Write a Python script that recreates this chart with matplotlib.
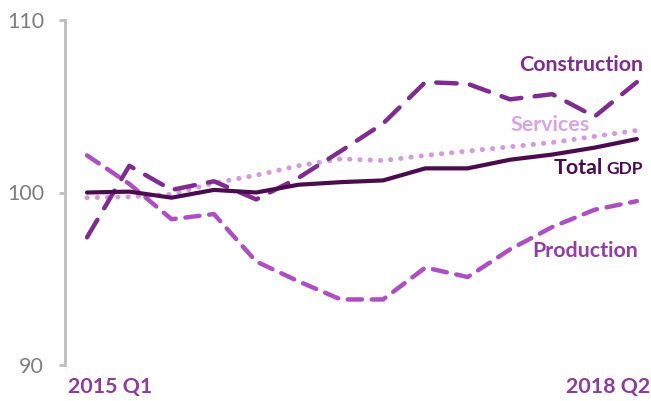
import matplotlib
matplotlib.use('Agg')
import matplotlib.pyplot as plt

quarters = ['2015 Q1', '2015 Q2', '2015 Q3', '2015 Q4',
            '2016 Q1', '2016 Q2', '2016 Q3', '2016 Q4',
            '2017 Q1', '2017 Q2', '2017 Q3', '2017 Q4',
            '2018 Q1', '2018 Q2']
gdp = [100.0, 100.05, 99.7, 100.15, 100.0, 100.45, 100.6, 100.7,
       101.4, 101.4, 101.9, 102.2, 102.6, 103.1]
services = [99.7, 99.75, 99.9, 100.55, 101.0, 101.55, 101.95, 101.85,
            102.15, 102.4, 102.65, 102.9, 103.25, 103.6]
production = [102.15, 100.5, 98.45, 98.75, 96.0, 94.85, 93.8, 93.8,
              95.65, 95.1, 96.7, 98.0, 99.0, 99.5]
construction = [97.4, 101.55, 100.15, 100.65, 99.6, 100.85, 102.4, 104.0,
                106.4, 106.3, 105.4, 105.7, 104.4, 106.4]

c_gdp = '#4b0c4f'
c_serv = '#d699e0'
c_prod = '#ad4fc2'
c_cons = '#7e2d8e'

plt.rcParams['font.family'] = ['Lato', 'DejaVu Sans']

W, H = 651, 401
fig = plt.figure(figsize=(W/100, H/100), dpi=100)
ax = fig.add_axes([65/W, 36/H, (650-65)/W, (365-20)/H])

x = list(range(len(quarters)))
ax.plot(x, services, color=c_serv, lw=3.6, dashes=(0.05, 2.0),
        dash_capstyle='round', zorder=2)
ax.plot(x, production, color=c_prod, lw=3.2, dashes=(3.2, 2.2),
        dash_capstyle='round', solid_joinstyle='round', zorder=3)
ax.plot(x, construction, color=c_cons, lw=3.2, dashes=(4.6, 3.0),
        dash_capstyle='round', zorder=4)
ax.plot(x, gdp, color=c_gdp, lw=3.0, solid_capstyle='round', zorder=5)

ax.set_xlim(-0.52, 13.31)
ax.set_ylim(90, 110)
ax.set_yticks([90, 100, 110])
ax.set_xticks([])
for s in ['top', 'right', 'bottom']:
    ax.spines[s].set_visible(False)
ax.spines['left'].set_color('#bfbfbf')
ax.spines['left'].set_linewidth(2)
ax.tick_params(axis='y', colors='#bfbfbf', width=2, length=4,
               labelcolor='#7f7f7f', labelsize=15.5, pad=11)


def px_text(px, py, s, **kw):
    # place text by pixel position measured from the top-left
    fig.text(px/W, 1 - py/H, s, va='center', fontweight='bold', **kw)


# series labels
px_text(643, 65, 'Construction', ha='right', color=c_cons, fontsize=15.4)
px_text(590, 125, 'Services', ha='right', color='#d8a5e2', fontsize=15.4)
px_text(603, 168, 'Total', ha='right', color=c_gdp, fontsize=15.4)
px_text(606, 169, 'GDP', ha='left', color=c_gdp, fontsize=12.5)
px_text(638, 251, 'Production', ha='right', color='#923ea4', fontsize=15.4)

px_text(68, 387, quarters[0], ha='left', color='#8e3a9e', fontsize=15.4)
px_text(650, 387, quarters[-1], ha='right', color='#8e3a9e', fontsize=15.4)

fig.savefig('out.png', dpi=100)
